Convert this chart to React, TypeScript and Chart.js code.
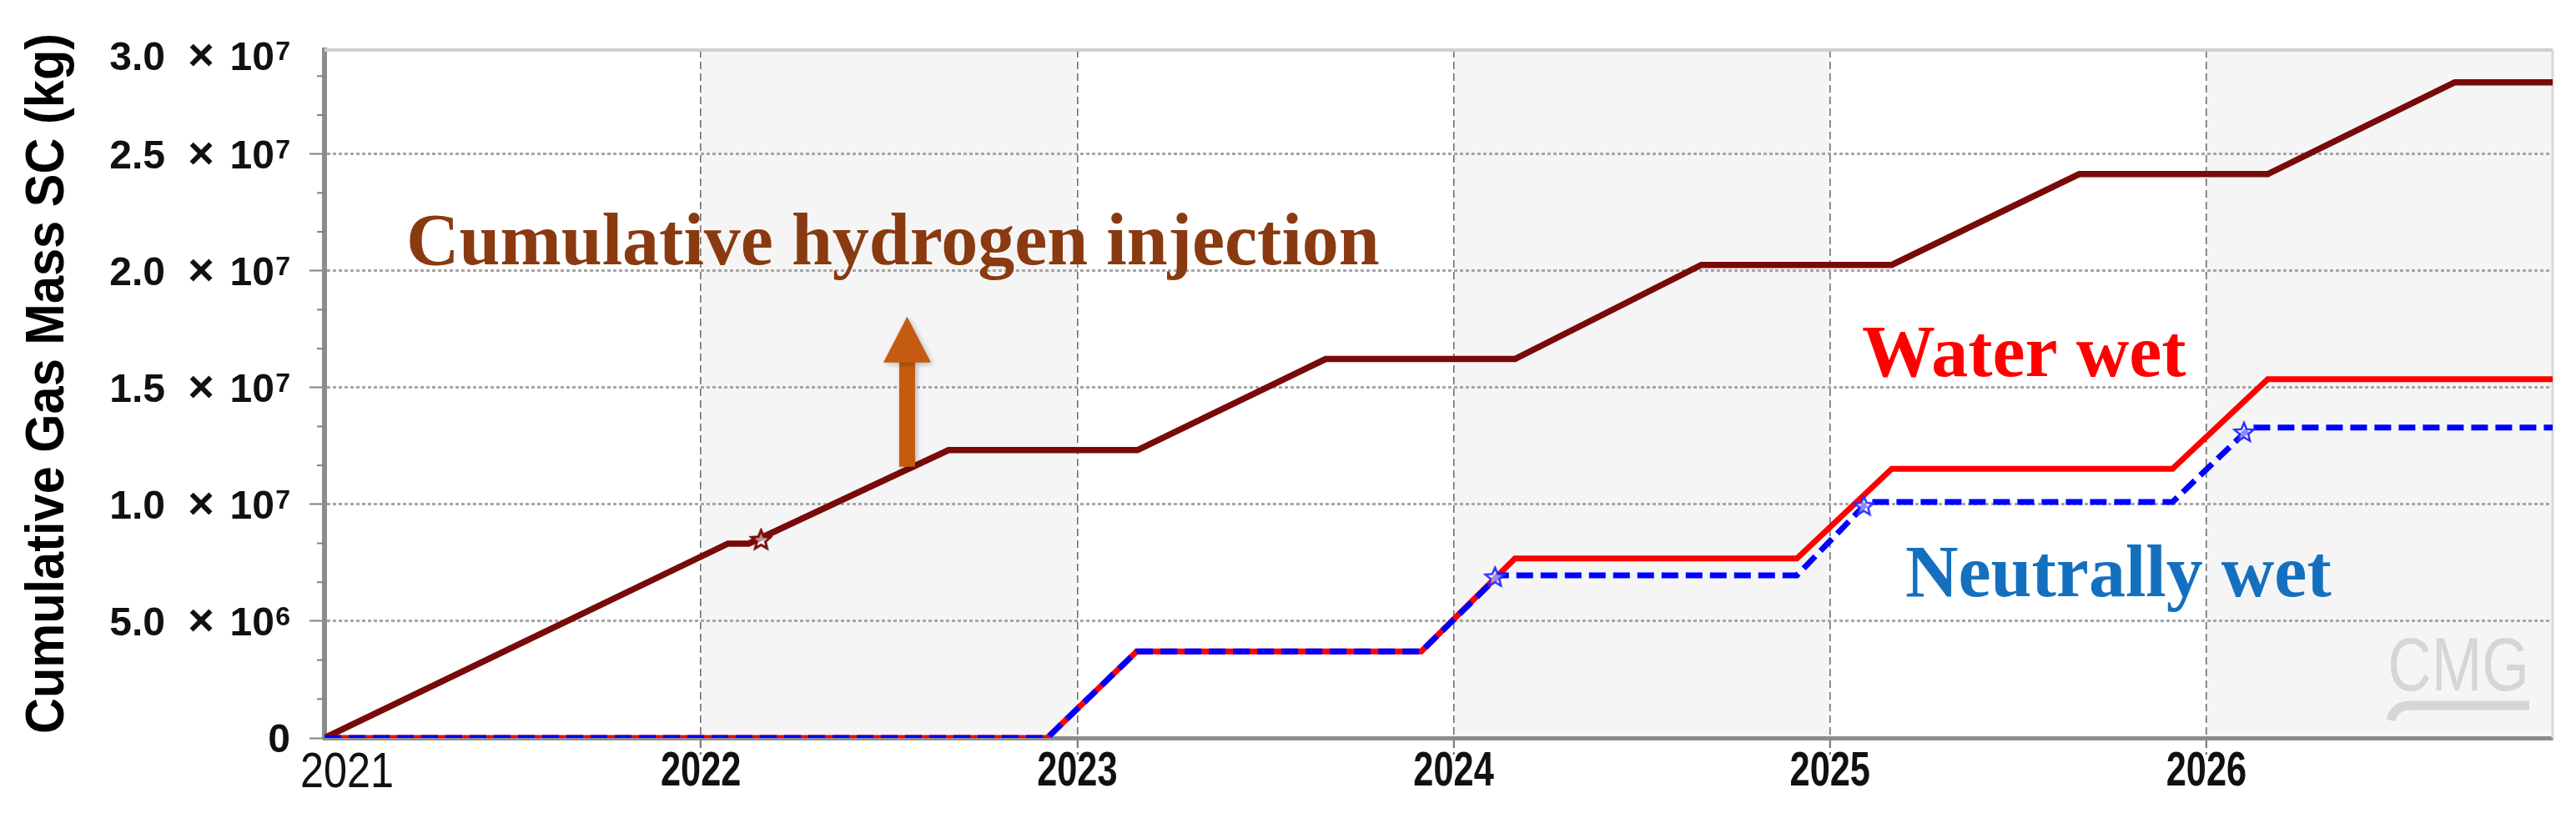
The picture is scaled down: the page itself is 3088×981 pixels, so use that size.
import React, { useEffect, useRef } from 'react';
import { Chart, registerables } from 'chart.js';

Chart.register(...registerables);

// ---------- data ----------
const xTickYears = [2021, 2022, 2023, 2024, 2025, 2026];
const xTickLabels = ['2021', '2022', '2023', '2024', '2025', '2026'];
const X_MIN = 2021;
const X_MAX = 2026.92;

const Y_MAX = 2.945e7;
const yTickValues = [0, 5e6, 1e7, 1.5e7, 2e7, 2.5e7, Y_MAX];
const yTickMantissa = ['0', '5.0', '1.0', '1.5', '2.0', '2.5', '3.0'];
const yTickExponent = ['', '6', '7', '7', '7', '7', '7'];

const hydrogenYears = [2021.0, 2022.072, 2022.127, 2022.658, 2023.16, 2023.66, 2024.163, 2024.658, 2025.164, 2025.662, 2026.163, 2026.66, 2026.92];
const hydrogenMass = [0, 8.32e6, 8.32e6, 1.232e7, 1.232e7, 1.622e7, 1.622e7, 2.025e7, 2.025e7, 2.414e7, 2.414e7, 2.807e7, 2.807e7];

const waterWetYears = [2021.0, 2022.92, 2023.158, 2023.914, 2024.163, 2024.912, 2025.164, 2025.91, 2026.163, 2026.92];
const waterWetMass = [0, 0, 3.7e6, 3.7e6, 7.68e6, 7.68e6, 1.152e7, 1.152e7, 1.536e7, 1.536e7];

const neutralYears = [2021.0, 2022.92, 2023.158, 2023.914, 2024.12, 2024.912, 2025.10, 2025.91, 2026.116, 2026.92];
const neutralMass = [0, 0, 3.7e6, 3.7e6, 6.96e6, 6.96e6, 1.01e7, 1.01e7, 1.329e7, 1.329e7];

const hydrogenMarkerYears = [2022.16];
const hydrogenMarkerMass = [8.5e6];
const neutralMarkerYears = [2024.11, 2025.09, 2026.10];
const neutralMarkerMass = [6.9e6, 9.95e6, 1.31e7];

const shadedBands = [[2022, 2023], [2024, 2025], [2026, X_MAX]];

const annotations = [
  { text: 'Cumulative hydrogen injection', year: 2021.217, value: 2.029e7, color: '#8a3a10' },
  { text: 'Water wet', year: 2025.085, value: 1.55e7, color: '#ff0000' },
  { text: 'Neutrally wet', year: 2025.2, value: 6.07e6, color: '#1470bf' },
];
const arrowYear = 2022.548;
const arrowFrom = 1.161e7;
const arrowShaftTop = 1.607e7;
const arrowTip = 1.804e7;

const yTitle = 'Cumulative Gas Mass SC (kg)';
const watermark = 'CMG';

const pts = (xs: number[], ys: number[]) => xs.map((x, i) => ({ x, y: ys[i] }));

function makeStar(color: string, size = 30, lw = 2.5) {
  const c = document.createElement('canvas');
  c.width = size;
  c.height = size;
  const g = c.getContext('2d')!;
  const cx = size / 2, cy = size / 2 + 1, R = size / 2 - 2, r = R * 0.45;
  g.beginPath();
  for (let i = 0; i < 10; i++) {
    const a = -Math.PI / 2 + (i * Math.PI) / 5;
    const rad = i % 2 === 0 ? R : r;
    g.lineTo(cx + rad * Math.cos(a), cy + rad * Math.sin(a));
  }
  g.closePath();
  g.fillStyle = 'rgba(255,255,255,0.55)';
  g.fill();
  g.strokeStyle = color;
  g.lineWidth = lw;
  g.stroke();
  return c;
}

const SANS = "'Liberation Sans', Arial, sans-serif";
const SERIF = "'Liberation Serif', 'Times New Roman', serif";

function drawScaledText(ctx: any, text: string, x: number, y: number, sx: number, align: string) {
  ctx.save();
  ctx.translate(x, y);
  ctx.scale(sx, 1);
  ctx.textAlign = align;
  ctx.fillText(text, 0, 0);
  ctx.restore();
}

const bgPlugin = {
  id: 'bgBands',
  beforeDraw(chart: any) {
    const { ctx, chartArea: a, scales } = chart;
    const x = scales.x;
    ctx.save();
    ctx.fillStyle = '#ffffff';
    ctx.fillRect(0, 0, chart.width, chart.height);
    ctx.fillStyle = '#f5f5f5';
    shadedBands.forEach(([s, e]) => {
      const x1 = x.getPixelForValue(s);
      const x2 = x.getPixelForValue(e);
      ctx.fillRect(x1, a.top, x2 - x1, a.bottom - a.top);
    });
    ctx.restore();
  },
  beforeDatasetsDraw(chart: any) {
    const { ctx, chartArea: a, scales } = chart;
    const y = scales.y;
    ctx.save();
    ctx.strokeStyle = '#d0d0d0';
    ctx.lineWidth = 4;
    ctx.beginPath();
    ctx.moveTo(a.left, a.top);
    ctx.lineTo(a.right, a.top);
    ctx.stroke();
    ctx.strokeStyle = '#d8d8d8';
    ctx.lineWidth = 3;
    ctx.beginPath();
    ctx.moveTo(a.right, a.top);
    ctx.lineTo(a.right, a.bottom);
    ctx.stroke();
    // minor ticks on y axis
    ctx.strokeStyle = '#808080';
    ctx.lineWidth = 2;
    const step = 5e6 / 3;
    for (let k = 1; k * step < Y_MAX; k++) {
      if (k % 3 === 0) continue;
      const py = y.getPixelForValue(k * step);
      ctx.beginPath();
      ctx.moveTo(a.left - 9, py);
      ctx.lineTo(a.left, py);
      ctx.stroke();
    }
    ctx.restore();
  },
  afterDatasetsDraw(chart: any) {
    const { ctx, chartArea: a, scales } = chart;
    const x = scales.x, y = scales.y;
    ctx.save();
    // CMG watermark
    ctx.fillStyle = '#d6d6d6';
    ctx.strokeStyle = '#d6d6d6';
    ctx.font = `91px ${SANS}`;
    ctx.textBaseline = 'alphabetic';
    drawScaledText(ctx, watermark, a.right - 28, a.bottom - 57, 0.8, 'right');
    ctx.lineWidth = 11;
    ctx.lineCap = 'butt';
    ctx.beginPath();
    ctx.moveTo(a.right - 194, a.bottom - 21);
    ctx.quadraticCurveTo(a.right - 190, a.bottom - 39, a.right - 170, a.bottom - 39);
    ctx.lineTo(a.right - 28, a.bottom - 39);
    ctx.stroke();

    // arrow
    const ax = x.getPixelForValue(arrowYear);
    const yBot = y.getPixelForValue(arrowFrom);
    const yShaft = y.getPixelForValue(arrowShaftTop);
    const yTip = y.getPixelForValue(arrowTip);
    ctx.shadowColor = 'rgba(0,0,0,0.25)';
    ctx.shadowBlur = 6;
    ctx.shadowOffsetX = 2;
    ctx.shadowOffsetY = 2;
    ctx.fillStyle = '#c55a11';
    ctx.fillRect(ax - 9.5, yShaft - 1, 19, yBot - yShaft + 1);
    ctx.beginPath();
    ctx.moveTo(ax - 28.5, yShaft);
    ctx.lineTo(ax + 28.5, yShaft);
    ctx.lineTo(ax, yTip);
    ctx.closePath();
    ctx.fill();
    ctx.shadowColor = 'transparent';

    // text annotations
    ctx.textAlign = 'left';
    ctx.textBaseline = 'alphabetic';
    ctx.font = `bold 88px ${SERIF}`;
    annotations.forEach((an) => {
      ctx.fillStyle = an.color;
      ctx.fillText(an.text, x.getPixelForValue(an.year), y.getPixelForValue(an.value));
    });
    ctx.restore();
  },
  afterDraw(chart: any) {
    const { ctx, chartArea: a, scales } = chart;
    const x = scales.x, y = scales.y;
    // y title
    ctx.save();
    ctx.translate(58, 460);
    ctx.rotate(-Math.PI / 2);
    ctx.scale(0.93, 1);
    ctx.fillStyle = '#000';
    ctx.font = `bold 64px ${SANS}`;
    ctx.textAlign = 'center';
    ctx.textBaseline = 'middle';
    ctx.fillText(yTitle, 0, 0);
    ctx.restore();

    // x tick labels
    ctx.save();
    ctx.fillStyle = '#111';
    ctx.textBaseline = 'alphabetic';
    xTickYears.forEach((v, i) => {
      const px = x.getPixelForValue(v);
      if (i === 0) {
        ctx.font = `60px ${SANS}`;
        drawScaledText(ctx, xTickLabels[i], px + 27, a.bottom + 59, 0.84, 'center');
      } else {
        ctx.font = `bold 57px ${SANS}`;
        drawScaledText(ctx, xTickLabels[i], px, a.bottom + 57, 0.76, 'center');
      }
    });
    ctx.restore();

    // y tick labels with superscript exponents
    ctx.save();
    ctx.fillStyle = '#111';
    ctx.textBaseline = 'alphabetic';
    const R = a.left - 41;
    yTickValues.forEach((v, i) => {
      let py = y.getPixelForValue(v);
      if (i === yTickValues.length - 1) py += 7;
      if (!yTickExponent[i]) {
        ctx.font = `bold 48px ${SANS}`;
        ctx.textAlign = 'right';
        ctx.fillText(yTickMantissa[i], R, py + 17);
        return;
      }
      ctx.font = `bold 32px ${SANS}`;
      ctx.textAlign = 'right';
      ctx.fillText(yTickExponent[i], R, py + 5);
      ctx.font = `bold 48px ${SANS}`;
      ctx.fillText('10', R - 19, py + 17);
      ctx.font = `bold 54px ${SANS}`;
      ctx.textAlign = 'center';
      ctx.fillText('×', R - 107, py + 17);
      ctx.font = `bold 48px ${SANS}`;
      ctx.textAlign = 'right';
      ctx.fillText(yTickMantissa[i], R - 150, py + 17);
    });
    ctx.restore();
  },
};

export default function App() {
  const ref = useRef<HTMLCanvasElement>(null);
  useEffect(() => {
    document.body.style.margin = '0';
    const canvas = ref.current!;
    const brownStar = makeStar('#7a0c0c', 28, 3);
    const blueStar = makeStar('#2a2aff', 28, 2.5);
    const chart = new Chart(canvas, {
      type: 'line',
      data: {
        datasets: [
          {
            label: 'hydrogen markers',
            data: pts(hydrogenMarkerYears, hydrogenMarkerMass),
            showLine: false,
            pointStyle: brownStar as any,
            pointRadius: 14,
            order: 0,
          },
          {
            label: 'neutral markers',
            data: pts(neutralMarkerYears, neutralMarkerMass),
            showLine: false,
            pointStyle: blueStar as any,
            pointRadius: 14,
            order: 0,
          },
          {
            label: 'Neutrally wet',
            data: pts(neutralYears, neutralMass),
            borderColor: '#0000ff',
            borderWidth: 7,
            borderDash: [20, 9],
            pointRadius: 0,
            order: 1,
          },
          {
            label: 'Water wet',
            data: pts(waterWetYears, waterWetMass),
            borderColor: '#ff0000',
            borderWidth: 7,
            pointRadius: 0,
            order: 2,
          },
          {
            label: 'Cumulative hydrogen injection',
            data: pts(hydrogenYears, hydrogenMass),
            borderColor: '#780a08',
            borderWidth: 7.5,
            pointRadius: 0,
            order: 3,
          },
        ],
      },
      options: {
        responsive: false,
        animation: false,
        devicePixelRatio: 1,
        events: [],
        layout: { padding: { left: 0, top: 60, right: 28, bottom: 0 } },
        elements: { line: { tension: 0, borderJoinStyle: 'miter', borderCapStyle: 'butt' } },
        plugins: { legend: { display: false }, tooltip: { enabled: false }, title: { display: false } },
        scales: {
          x: {
            type: 'linear',
            min: X_MIN,
            max: X_MAX,
            afterFit: (s: any) => { s.height = 96; },
            afterBuildTicks: (s: any) => { s.ticks = xTickYears.map((v) => ({ value: v })); },
            ticks: {
              autoSkip: false,
              maxRotation: 0,
              font: { family: SANS, size: 40, weight: 'bold' },
              callback: () => '',
            },
            grid: {
              color: (c: any) => (c.index === 0 ? 'rgba(0,0,0,0)' : '#707070'),
              lineWidth: 1.6,
              tickLength: 20,
              tickWidth: 2,
              tickColor: (c: any) => (c.index === 0 ? 'rgba(0,0,0,0)' : '#707070'),
              tickBorderDash: [9, 5],
            },
            border: { display: true, color: '#8c8c8c', width: 5, dash: [9, 5] },
          },
          y: {
            type: 'linear',
            min: 0,
            max: Y_MAX,
            afterFit: (s: any) => { s.width = 389; },
            afterBuildTicks: (s: any) => { s.ticks = yTickValues.map((v) => ({ value: v })); },
            ticks: {
              autoSkip: false,
              font: { family: SANS, size: 40, weight: 'bold' },
              callback: () => '',
            },
            grid: {
              color: (c: any) => (c.index === 0 || c.index === yTickValues.length - 1 ? 'rgba(0,0,0,0)' : '#a6a6a6'),
              lineWidth: 3,
              tickLength: 18,
              tickWidth: 2,
              tickColor: (c: any) => (c.index === yTickValues.length - 1 ? 'rgba(0,0,0,0)' : '#808080'),
            },
            border: { display: true, color: '#8c8c8c', width: 6, dash: [4, 3] },
          },
        },
      },
      plugins: [bgPlugin],
    } as any);
    return () => chart.destroy();
  }, []);
  return (
    <canvas
      ref={ref}
      width={3088}
      height={981}
      style={{ display: 'block', width: '3088px', height: '981px' }}
    />
  );
}
